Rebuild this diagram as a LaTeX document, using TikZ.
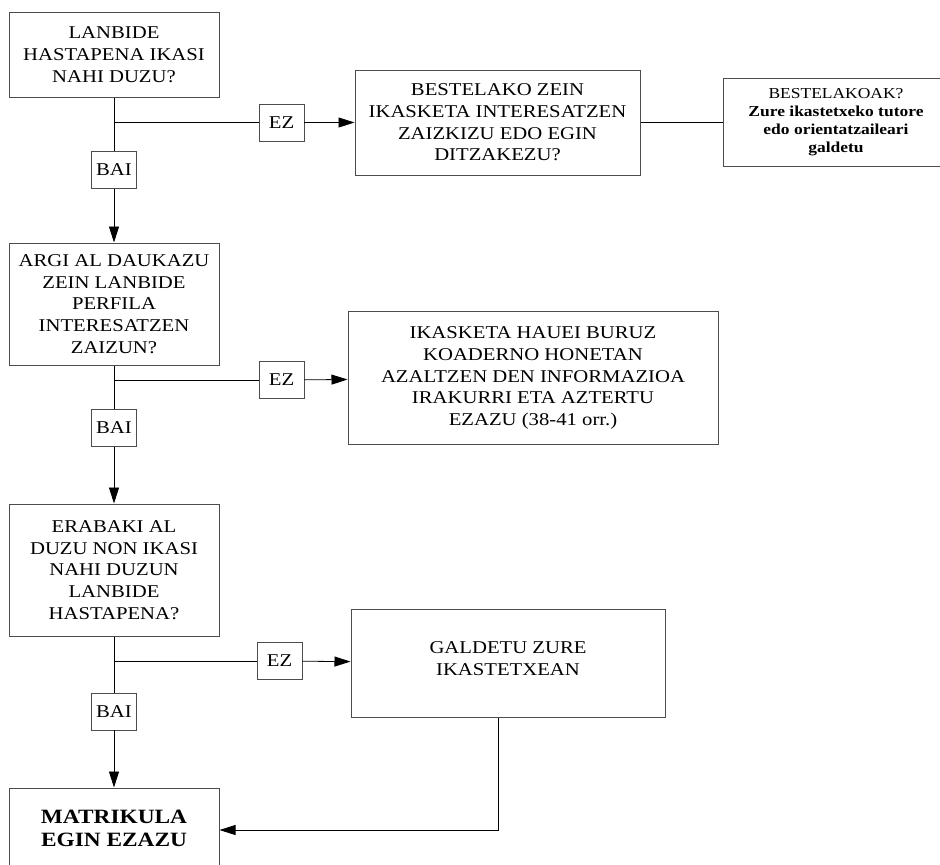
\documentclass[tikz,border=0pt]{standalone}
\usepackage{fontspec}
\setmainfont{Liberation Serif}[FakeStretch=1.15]
\usetikzlibrary{positioning,calc,arrows.meta}

\begin{document}
\begin{tikzpicture}[x=1pt, y=-1pt, >={Triangle[length=16pt,width=10pt]},
    box/.style={draw=black!70, line width=1pt, rectangle, align=center, inner sep=2pt, font=\fontsize{18}{21.7}\selectfont},
    tag/.style={draw=black!70, line width=0.9pt, rectangle, minimum width=45pt, minimum height=37pt, inner sep=0pt, font=\fontsize{18}{21.7}\selectfont},
    every path/.append style={line width=0.8pt}]
    \useasboundingbox (0,0) rectangle (940,865);

    % First question
    \node [box, minimum width=210pt, minimum height=85pt] (q1) at (114,54.5) {LANBIDE\\HASTAPENA IKASI\\NAHI DUZU?};
    \node [tag] (ez1) at (281.5,122.5) {EZ};
    \node [box, minimum width=285pt, minimum height=105pt] (alt) at (497.5,122.5) {BESTELAKO ZEIN\\IKASKETA INTERESATZEN\\ZAIZKIZU EDO EGIN\\DITZAKEZU?};
    \node [box, minimum width=226pt, minimum height=88pt, font=\fontsize{15.2}{18}\selectfont] (other) at (836,122.5) {BESTELAKOAK?\\\textbf{Zure ikastetxeko tutore}\\\textbf{edo orientatzaileari}\\\textbf{galdetu}};
    \node [tag] (bai1) at (114,170) {BAI};

    % Second question
    \node [box, minimum width=210pt, minimum height=122pt] (q2) at (114,304) {ARGI AL DAUKAZU\\ZEIN LANBIDE\\PERFILA\\INTERESATZEN\\ZAIZUN?};
    \node [tag] (ez2) at (281.5,380) {EZ};
    \node [box, minimum width=370pt, minimum height=133pt] (info) at (533,378) {IKASKETA HAUEI BURUZ\\KOADERNO HONETAN\\AZALTZEN DEN INFORMAZIOA\\IRAKURRI ETA AZTERTU\\EZAZU (38-41 orr.)};
    \node [tag] (bai2) at (114,428) {BAI};

    % Third question
    \node [box, minimum width=210pt, minimum height=132pt] (q3) at (114,570) {ERABAKI AL\\DUZU NON IKASI\\NAHI DUZUN\\LANBIDE\\HASTAPENA?};
    \node [tag] (ez3) at (279.5,661) {EZ};
    \node [box, minimum width=314pt, minimum height=108pt, text depth=9pt] (ask) at (508,663) {GALDETU ZURE\\IKASTETXEAN};
    \node [tag] (bai3) at (114,711.5) {BAI};

    % End
    \node [box, minimum width=210pt, minimum height=84pt, text depth=3pt, font=\bfseries\fontsize{20.3}{23.3}\selectfont] (enrol) at (114,830) {MATRIKULA\\EGIN EZAZU};

    % Connectors
    \coordinate (j1) at (q1.south |- ez1);
    \coordinate (j2) at (q2.south |- ez2);
    \coordinate (j3) at (q3.south |- ez3);
    \draw (q1) -- (bai1);
    \draw (j1) -- (ez1);
    \draw [->] (ez1) -- (alt);
    \draw (alt) -- (other);
    \draw [->] (bai1) -- (q2);
    \draw (q2) -- (bai2);
    \draw (j2) -- (ez2);
    \draw [->] (ez2) -- (info);
    \draw [->] (bai2) -- (q3);
    \draw (q3) -- (bai3);
    \draw (j3) -- (ez3);
    \draw [->] (ez3) -- (ask);
    \draw [->] (bai3) -- (enrol);
    \draw [->] ([xshift=-10pt]ask.south) |- (enrol);

\end{tikzpicture}
\end{document}
